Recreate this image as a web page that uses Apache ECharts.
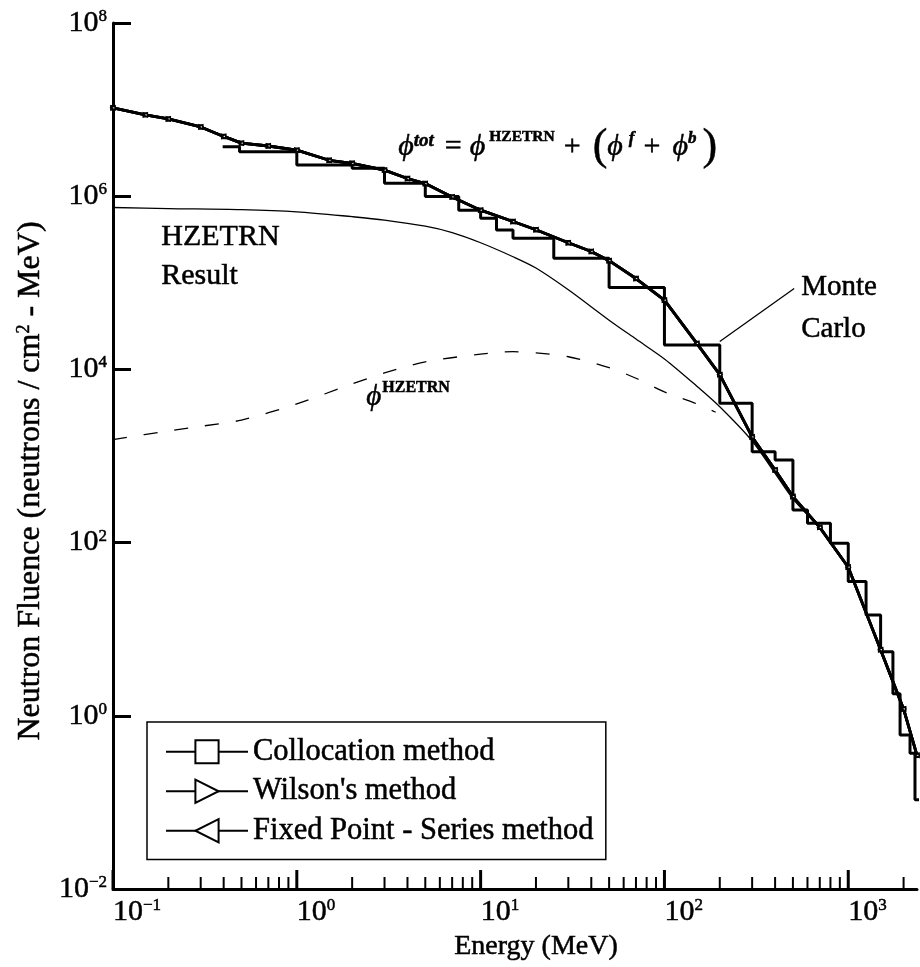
<!DOCTYPE html>
<html>
<head>
<meta charset="utf-8">
<script src="https://cdn.jsdelivr.net/npm/echarts@6/dist/echarts.min.js"></script>
<style>
  html, body { margin: 0; padding: 0; background: #fff; }
  #chart { width: 920px; height: 967px; }
</style>
</head>
<body>
<div id="chart"></div>
<script>
// Total neutron fluence: collocation, Wilson and fixed-point series solutions coincide
const energy = [0.1, 0.15, 0.2, 0.3, 0.4, 0.5, 0.7, 1, 1.5, 2, 3, 4, 5, 7, 10, 15, 20, 30, 40, 50, 70,
  100, 150, 200, 300, 400, 500, 700, 1000, 1500, 2000, 2366];
const fluxTotal = [1.05e7, 8.7e6, 7.8e6, 6.3e6, 4.9e6, 4.1e6, 3.8e6, 3.4e6, 2.6e6, 2.4e6, 2.0e6, 1.6e6,
  1.4e6, 9.8e5, 6.9e5, 5.1e5, 4.1e5, 2.9e5, 2.3e5, 1.8e5, 1.12e5, 6.3e4, 2.0e4, 8.7e3, 1.66e3, 690,
  340, 150, 52, 5.8, 1.2, 0.35];

// HZETRN result alone
const hzetrnEnergy = [0.1, 0.2, 0.5, 1, 2, 3, 5, 7, 10, 15, 20, 30, 50, 70, 100, 150, 200, 300, 400,
  500, 700, 1000, 1500, 2000, 2366];
const hzetrnFlux = [7.4e5, 7.2e5, 7.0e5, 6.6e5, 5.8e5, 5.3e5, 4.5e5, 3.8e5, 2.9e5, 2.0e5, 1.48e5,
  8.3e4, 3.7e4, 2.24e4, 1.32e4, 6.4e3, 3.7e3, 1.49e3, 630, 320, 145, 50, 5.5, 1.1, 0.34];

// Dashed phi^HZETRN component
const phiEnergy = [0.1, 0.2, 0.3, 0.5, 1, 2, 3, 5, 10, 15, 20, 30, 50, 70, 100, 150, 190];
const phiFlux = [1.55e3, 1.95e3, 2.2e3, 2.6e3, 4.0e3, 6.8e3, 9.1e3, 1.22e4, 1.5e4, 1.6e4, 1.55e4,
  1.4e4, 1.05e4, 7.9e3, 5.5e3, 4.0e3, 3.2e3];

// Monte Carlo histogram: bin edges (MeV) and bin values
const mcEdges = [0.395, 0.488, 1, 2, 3, 5, 7.6, 10, 12.2, 15, 25, 50, 100, 200, 300, 400, 500, 600,
  800, 1000, 1250, 1500, 1750, 1914, 2168, 2307, 2500];
const mcFlux = [3.73e6, 3.27e6, 2.29e6, 2.1e6, 1.41e6, 9.9e5, 6.9e5, 5.56e5, 4.07e5, 3.27e5, 1.92e5,
  8.8e4, 1.91e4, 4.07e3, 1.12e3, 900, 238, 167, 98, 35.5, 14.6, 5.5, 1.8, 0.6, 0.37, 0.107];

// Leader line for the "Monte Carlo" label
const leaderEnergy = [200, 508];
const leaderFlux = [2.1e4, 8.6e4];

// Energy axis ticks
const xMajorTicks = [0.1, 1, 10, 100, 1000];
const xMinorTicks = [];
[0.1, 1, 10, 100].forEach(d => { for (let k = 2; k <= 9; k++) xMinorTicks.push(+(k * d).toPrecision(3)); });
xMinorTicks.push(2000);

const X_MIN = 0.1, X_MAX = 2366, Y_MIN = 0.01, Y_MAX = 1e8;
const FONT = '"Liberation Serif", "Times New Roman", serif';
const PHI = '\u03d5';

const zip = (xs, ys) => xs.map((x, i) => [x, ys[i]]);
const histogram = (edges, vals) => {
  const pts = [];
  vals.forEach((v, i) => { pts.push([edges[i], v]); pts.push([edges[i + 1], v]); });
  return pts;
};
const supExp = e => (e < 0 ? '\u2212' + (-e) : String(e));

const chart = echarts.init(document.getElementById('chart'), null, { renderer: 'canvas' });

const methodSeries = (name, symbol) => ({
  name, type: 'line', data: zip(energy, fluxTotal), symbol, symbolSize: 4,
  showSymbol: true, silent: true, z: 5,
  lineStyle: { color: '#000', width: 2.8 },
  itemStyle: { color: '#fff', borderColor: '#000', borderWidth: 1.4 },
  emphasis: { disabled: true }
});

const tickSeries = (ticks, len, width) => ({
  type: 'custom', data: ticks.map(t => [t]), silent: true, z: 3,
  renderItem: (params, api) => {
    const p = api.coord([api.value(0), Y_MIN]);
    return { type: 'line', shape: { x1: p[0], y1: p[1], x2: p[0], y2: p[1] - len },
      style: { stroke: '#000', lineWidth: width } };
  }
});

// Slightly heavier glyphs for all printed text
const ink = { fontFamily: FONT, color: '#000', textBorderColor: '#000', textBorderWidth: 0.5 };
const inkFill = (font, extra) => Object.assign({ font: font, fill: '#000', stroke: '#000', lineWidth: 0.5 }, extra || {});

chart.setOption({
  animation: false,
  backgroundColor: '#fff',
  grid: { left: 113, right: 0, top: 23, bottom: 78, containLabel: false },
  legend: {
    orient: 'vertical', left: 147, top: 722,
    data: ['Collocation method', "Wilson's method", 'Fixed Point - Series method'],
    itemWidth: 82, itemHeight: 29, itemGap: 8,
    padding: [14, 12, 13, 18],
    borderColor: '#000', borderWidth: 1.5, backgroundColor: '#fff',
    selectedMode: false,
    textStyle: Object.assign({ fontSize: 30.5 }, ink)
  },
  xAxis: {
    type: 'log', logBase: 10, min: X_MIN, max: X_MAX,
    axisLine: { lineStyle: { color: '#000', width: 3 } },
    axisTick: { show: false },
    splitLine: { show: false },
    axisLabel: {
      align: 'left', margin: 8,
      formatter: v => {
        const e = Math.log10(v);
        if (Math.abs(e - Math.round(e)) > 1e-6) return '';
        return '{b|10}{s|' + supExp(Math.round(e)) + '}';
      },
      rich: {
        b: Object.assign({ fontSize: 30 }, ink),
        s: Object.assign({ fontSize: 17, verticalAlign: 'top' }, ink)
      }
    },
    name: 'Energy (MeV)', nameLocation: 'middle', nameGap: 42,
    nameTextStyle: Object.assign({ fontSize: 28, padding: [0, 0, 0, 42] }, ink)
  },
  yAxis: {
    type: 'log', logBase: 100, min: Y_MIN, max: Y_MAX,
    axisLine: { lineStyle: { color: '#000', width: 3 } },
    axisTick: { inside: true, length: 18, lineStyle: { color: '#000', width: 3 } },
    splitLine: { show: false },
    axisLabel: {
      margin: 6,
      formatter: v => '{b|10}{s|' + supExp(Math.round(Math.log10(v))) + '}',
      rich: {
        b: Object.assign({ fontSize: 30 }, ink),
        s: Object.assign({ fontSize: 17, verticalAlign: 'top' }, ink)
      }
    },
    name: '{t|Neutron Fluence (neutrons / cm}{u|2}{t| - MeV)}',
    nameLocation: 'middle', nameGap: 66,
    nameTextStyle: {
      padding: [0, 50, 0, 0],
      rich: {
        t: Object.assign({ fontSize: 32 }, ink),
        u: Object.assign({ fontSize: 18, verticalAlign: 'top' }, ink)
      }
    }
  },
  series: [
    tickSeries(xMajorTicks, 19, 3),
    tickSeries(xMinorTicks, 12, 2),
    {
      name: 'Monte Carlo', type: 'line', data: histogram(mcEdges, mcFlux), symbol: 'none',
      silent: true, z: 4, lineStyle: { color: '#000', width: 3 }
    },
    {
      name: 'HZETRN', type: 'line', data: zip(hzetrnEnergy, hzetrnFlux), symbol: 'none',
      smooth: 0.3, silent: true, z: 3, lineStyle: { color: '#000', width: 1.3 }
    },
    {
      name: 'phiHZETRN', type: 'line', data: zip(phiEnergy, phiFlux), symbol: 'none',
      smooth: 0.3, silent: true, z: 3, lineStyle: { color: '#000', width: 1.3, type: [14, 17] }
    },
    {
      name: 'leader', type: 'line', data: zip(leaderEnergy, leaderFlux), symbol: 'none',
      silent: true, z: 3, lineStyle: { color: '#000', width: 1.3 }
    },
    methodSeries('Collocation method', 'rect'),
    methodSeries("Wilson's method", 'path://M0,0L10,6L0,12Z'),
    methodSeries('Fixed Point - Series method', 'path://M10,0L0,6L10,12Z')
  ],
  graphic: [
    {
      type: 'text', left: 161, top: 218,
      style: inkFill('30px ' + FONT, { text: 'HZETRN\nResult', lineHeight: 39 })
    },
    {
      type: 'text', left: 801, top: 266,
      style: inkFill('29px ' + FONT, { text: 'Monte\nCarlo', lineHeight: 42 })
    },
    {
      type: 'text', left: 398, top: 124,
      style: {
        text: '{p|' + PHI + '}{s|tot}{e|=}{p|' + PHI + '}{S|HZETRN}{o|+}{b|(}{p|' + PHI +
          '}{f|f}{o|+}{p|' + PHI + '}{g|b}{c|)}',
        rich: {
          p: inkFill('italic 30px ' + FONT, { lineHeight: 46 }),
          s: inkFill('italic bold 19px ' + FONT, { verticalAlign: 'top', lineHeight: 30, padding: [8, 0, 0, 0] }),
          f: inkFill('italic bold 17px ' + FONT, { verticalAlign: 'top', lineHeight: 30, padding: [6, 0, 0, 6] }),
          g: inkFill('italic bold 17px ' + FONT, { verticalAlign: 'top', lineHeight: 30, padding: [6, 0, 0, 0] }),
          S: inkFill('bold 15.5px ' + FONT, { verticalAlign: 'top', lineHeight: 30, padding: [5, 0, 0, 4] }),
          e: inkFill('30px ' + FONT, { lineHeight: 46, padding: [0, 8, 0, 11] }),
          o: inkFill('30px ' + FONT, { lineHeight: 46, padding: [0, 12, 0, 9] }),
          b: inkFill('44px ' + FONT, { lineHeight: 46 }),
          c: inkFill('44px ' + FONT, { lineHeight: 46, padding: [0, 0, 0, 6] })
        }
      }
    },
    {
      type: 'text', left: 366, top: 378,
      style: {
        text: '{p|' + PHI + '}{S|HZETRN}',
        rich: {
          p: inkFill('italic 29px ' + FONT, { lineHeight: 38 }),
          S: inkFill('bold 16px ' + FONT, { verticalAlign: 'top', lineHeight: 26, padding: [2, 0, 0, 1] })
        }
      }
    }
  ]
});
</script>
</body>
</html>
